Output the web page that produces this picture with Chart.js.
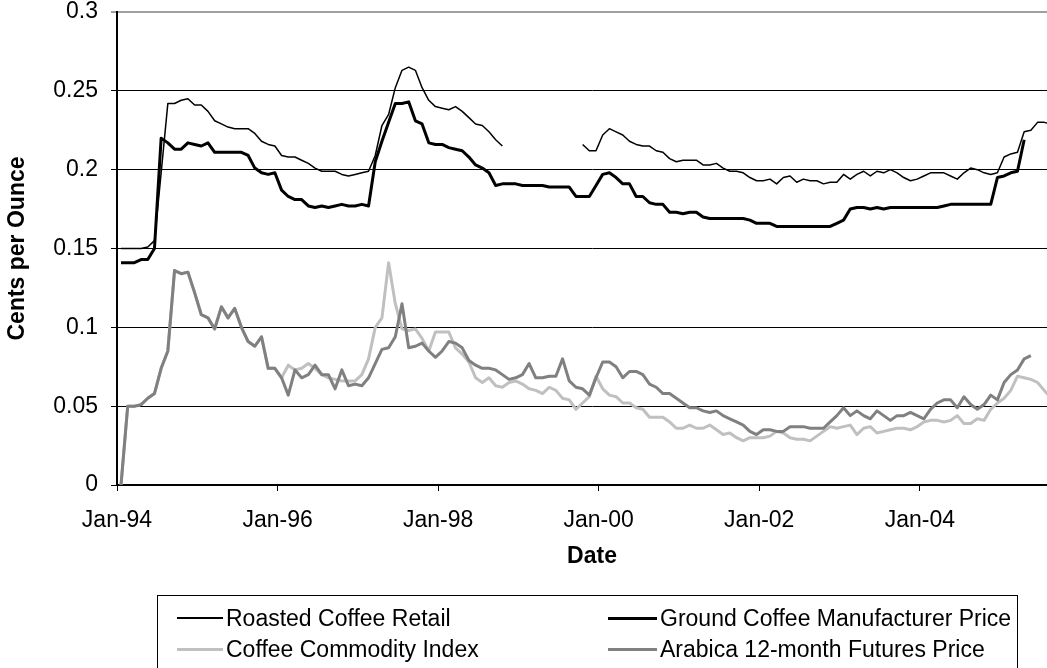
<!DOCTYPE html>
<html>
<head>
<meta charset="utf-8">
<script src="https://cdn.jsdelivr.net/npm/chart.js@4.4.1/dist/chart.umd.min.js"></script>
<style>
  html, body { margin:0; padding:0; background:#fff; overflow:hidden; }
  #wrap { position:relative; width:1067px; height:668px; }
  #legend { position:absolute; left:157px; top:595px; width:861px; height:100px; border:1px solid #000; box-sizing:border-box; }
  .lg-text { position:absolute; font-family:"Liberation Sans", Arial, sans-serif; font-size:23px; line-height:26px; color:#000; white-space:nowrap; }
  .lg-line { position:absolute; }
</style>
</head>
<body>
<div id="wrap">
  <canvas id="c" width="1067" height="668"></canvas>
  <div id="legend"></div>
</div>
<script>
// ---- Data (monthly, starting Jan-94) ----
const seriesNames = ['Roasted Coffee Retail', 'Ground Coffee Manufacturer Price', 'Coffee Commodity Index', 'Arabica 12-month Futures Price'];
const xTickLabels = ['Jan-94', 'Jan-96', 'Jan-98', 'Jan-00', 'Jan-02', 'Jan-04'];
const yTickLabels = ['0', '0.05', '0.1', '0.15', '0.2', '0.25', '0.3'];

const roastedRetail = [
  0.150, 0.150, 0.150, 0.150, 0.151, 0.155, 0.198, 0.242, 0.242, 0.244,
  0.245, 0.241, 0.241, 0.237, 0.231, 0.229, 0.227, 0.226, 0.226, 0.226,
  0.223, 0.218, 0.216, 0.215, 0.209, 0.208, 0.208, 0.206, 0.204, 0.201,
  0.199, 0.199, 0.199, 0.197, 0.196, 0.197, 0.198, 0.199, 0.209, 0.228,
  0.235, 0.252, 0.263, 0.265, 0.263, 0.252, 0.244, 0.240, 0.239, 0.238,
  0.240, 0.237, 0.233, 0.229, 0.228, 0.224, 0.219, 0.215, null, null,
  null, null, null, null, null, null, null, null, null, 0.216,
  0.212, 0.212, 0.222, 0.226, 0.224, 0.222, 0.218, 0.216, 0.215, 0.215,
  0.212, 0.211, 0.207, 0.205, 0.206, 0.206, 0.206, 0.203, 0.203, 0.204,
  0.201, 0.199, 0.199, 0.198, 0.195, 0.193, 0.193, 0.194, 0.191, 0.195,
  0.196, 0.192, 0.194, 0.193, 0.193, 0.191, 0.192, 0.192, 0.197, 0.194,
  0.197, 0.199, 0.196, 0.199, 0.198, 0.200, 0.198, 0.195, 0.193, 0.194,
  0.196, 0.198, 0.198, 0.198, 0.196, 0.194, 0.198, 0.201, 0.200, 0.198,
  0.197, 0.198, 0.208, 0.210, 0.211, 0.224, 0.225, 0.230, 0.230, 0.229
];

const groundManufacturer = [
  0.141, 0.141, 0.141, 0.143, 0.143, 0.150, 0.220, 0.217, 0.213, 0.213,
  0.217, 0.216, 0.215, 0.217, 0.211, 0.211, 0.211, 0.211, 0.211, 0.209,
  0.201, 0.198, 0.197, 0.198, 0.187, 0.183, 0.181, 0.181, 0.177, 0.176,
  0.177, 0.176, 0.177, 0.178, 0.177, 0.177, 0.178, 0.177, 0.205, 0.218,
  0.230, 0.242, 0.242, 0.243, 0.231, 0.229, 0.217, 0.216, 0.216, 0.214,
  0.213, 0.212, 0.208, 0.203, 0.201, 0.198, 0.190, 0.191, 0.191, 0.191,
  0.190, 0.190, 0.190, 0.190, 0.189, 0.189, 0.189, 0.189, 0.183, 0.183,
  0.183, 0.190, 0.197, 0.198, 0.195, 0.191, 0.191, 0.183, 0.183, 0.179,
  0.178, 0.178, 0.173, 0.173, 0.172, 0.173, 0.173, 0.170, 0.169, 0.169,
  0.169, 0.169, 0.169, 0.169, 0.168, 0.166, 0.166, 0.166, 0.164, 0.164,
  0.164, 0.164, 0.164, 0.164, 0.164, 0.164, 0.164, 0.166, 0.168, 0.175,
  0.176, 0.176, 0.175, 0.176, 0.175, 0.176, 0.176, 0.176, 0.176, 0.176,
  0.176, 0.176, 0.176, 0.177, 0.178, 0.178, 0.178, 0.178, 0.178, 0.178,
  0.178, 0.195, 0.196, 0.198, 0.199, 0.219
];

const commodityIndex = [
  0.000, 0.050, 0.050, 0.051, 0.055, 0.058, 0.074, 0.085, 0.136, 0.134,
  0.135, 0.122, 0.108, 0.106, 0.099, 0.113, 0.106, 0.112, 0.100, 0.091,
  0.088, 0.094, 0.074, 0.074, 0.068, 0.076, 0.073, 0.074, 0.077, 0.074,
  0.070, 0.068, 0.067, 0.066, 0.066, 0.066, 0.070, 0.080, 0.100, 0.106,
  0.141, 0.115, 0.099, 0.098, 0.099, 0.093, 0.085, 0.097, 0.097, 0.097,
  0.087, 0.083, 0.078, 0.068, 0.065, 0.068, 0.063, 0.062, 0.065, 0.066,
  0.064, 0.061, 0.060, 0.058, 0.062, 0.060, 0.055, 0.054, 0.048, 0.052,
  0.056, 0.069, 0.061, 0.057, 0.056, 0.052, 0.052, 0.049, 0.048, 0.043,
  0.043, 0.043, 0.040, 0.036, 0.036, 0.038, 0.036, 0.036, 0.038, 0.035,
  0.032, 0.033, 0.030, 0.028, 0.030, 0.030, 0.030, 0.031, 0.034, 0.033,
  0.030, 0.029, 0.029, 0.028, 0.031, 0.034, 0.037, 0.036, 0.037, 0.038,
  0.032, 0.036, 0.037, 0.033, 0.034, 0.035, 0.036, 0.036, 0.035, 0.037,
  0.040, 0.041, 0.041, 0.040, 0.041, 0.044, 0.039, 0.039, 0.042, 0.041,
  0.048, 0.052, 0.055, 0.060, 0.069, 0.068, 0.067, 0.065, 0.060, 0.055
];

const arabicaFutures = [
  0.000, 0.050, 0.050, 0.051, 0.055, 0.058, 0.074, 0.085, 0.136, 0.134,
  0.135, 0.122, 0.108, 0.106, 0.099, 0.113, 0.106, 0.112, 0.100, 0.091,
  0.088, 0.094, 0.074, 0.074, 0.068, 0.057, 0.073, 0.068, 0.070, 0.076,
  0.070, 0.070, 0.061, 0.073, 0.063, 0.064, 0.063, 0.068, 0.077, 0.086,
  0.087, 0.094, 0.115, 0.087, 0.088, 0.090, 0.085, 0.081, 0.085, 0.091,
  0.090, 0.087, 0.079, 0.076, 0.074, 0.074, 0.073, 0.070, 0.067, 0.068,
  0.070, 0.077, 0.068, 0.068, 0.069, 0.069, 0.080, 0.066, 0.062, 0.061,
  0.057, 0.068, 0.078, 0.078, 0.075, 0.068, 0.072, 0.072, 0.070, 0.064,
  0.062, 0.058, 0.058, 0.055, 0.052, 0.049, 0.049, 0.047, 0.046, 0.047,
  0.044, 0.042, 0.040, 0.038, 0.034, 0.032, 0.035, 0.035, 0.034, 0.034,
  0.037, 0.037, 0.037, 0.036, 0.036, 0.036, 0.040, 0.044, 0.049, 0.044,
  0.047, 0.044, 0.042, 0.047, 0.044, 0.041, 0.044, 0.044, 0.046, 0.044,
  0.042, 0.048, 0.052, 0.054, 0.054, 0.049, 0.056, 0.051, 0.048, 0.051,
  0.057, 0.054, 0.065, 0.070, 0.073, 0.080, 0.082
];

// months since Jan-94; monthly readings sit slightly after the first of the month
const monthOffset = 0.6;
const toPoints = arr => arr.map((v, i) => ({ x: i + monthOffset, y: v }));

const styles = [
  { color: '#000000', width: 1.5, order: 3 },
  { color: '#000000', width: 3, order: 2 },
  { color: '#c0c0c0', width: 3, order: 1 },
  { color: '#808080', width: 3, order: 0 }
];
const seriesData = [roastedRetail, groundManufacturer, commodityIndex, arabicaFutures];

const FONT = '"Liberation Sans", Arial, sans-serif';
const FS = 23;

const datasets = seriesData.map((d, k) => ({
  label: seriesNames[k],
  data: toPoints(d),
  borderColor: styles[k].color,
  borderWidth: styles[k].width,
  order: styles[k].order,
  pointRadius: 0,
  tension: 0,
  spanGaps: false,
  fill: false,
  borderJoinStyle: 'round',
  borderCapStyle: 'butt'
}));

new Chart(document.getElementById('c'), {
  type: 'line',
  data: { datasets },
  options: {
    responsive: false,
    animation: false,
    devicePixelRatio: 1,
    layout: { padding: { top: 12, left: 0, right: 0, bottom: 0 } },
    plugins: { legend: { display: false }, tooltip: { enabled: false } },
    scales: {
      x: {
        type: 'linear',
        min: 0,
        max: 142,
        afterFit: s => { s.height = 183; s.paddingLeft = 0; s.paddingRight = 0; },
        ticks: {
          stepSize: 24,
          includeBounds: false,
          autoSkip: false,
          maxRotation: 0,
          padding: 16,
          color: '#000',
          font: { family: FONT, size: FS },
          callback: v => xTickLabels[Math.round(v / 24)]
        },
        grid: { drawOnChartArea: false, drawTicks: true, tickLength: 6, color: '#000', lineWidth: 1 },
        border: { color: '#000', width: 2 },
        title: { display: true, text: 'Date', color: '#000', font: { family: FONT, size: FS, weight: 'bold' }, padding: { top: 0, bottom: 98 } }
      },
      y: {
        min: 0,
        max: 0.3,
        afterFit: s => { s.width = 117; s.paddingTop = 0; s.paddingBottom = 0; },
        ticks: {
          stepSize: 0.05,
          padding: 13,
          color: '#000',
          font: { family: FONT, size: FS },
          callback: (v, i) => yTickLabels[i]
        },
        grid: {
          tickLength: 6,
          color: c => (c.tick && c.tick.value > 0.299) ? '#a0a0a0' : '#000',
          lineWidth: c => (c.tick && c.tick.value > 0.299) ? 2 : 1
        },
        border: { color: '#000', width: 2 },
        title: { display: true, text: 'Cents per Ounce', color: '#000', font: { family: FONT, size: FS, weight: 'bold' }, padding: { top: 4, bottom: 0 } }
      }
    }
  }
});

// ---- HTML legend (Excel-style box, two columns) ----
const wrap = document.getElementById('wrap');
const legendPos = [
  { lx: 177, lw: 46, tx: 226, cy: 618 },
  { lx: 608, lw: 49, tx: 660, cy: 618 },
  { lx: 177, lw: 46, tx: 226, cy: 649 },
  { lx: 608, lw: 49, tx: 660, cy: 649 }
];
seriesNames.forEach((name, k) => {
  const p = legendPos[k];
  const ln = document.createElement('div');
  ln.className = 'lg-line';
  const h = styles[k].width >= 2 ? 3 : 1.5;
  ln.style.left = p.lx + 'px';
  ln.style.width = p.lw + 'px';
  ln.style.top = (p.cy - h / 2) + 'px';
  ln.style.height = h + 'px';
  ln.style.background = styles[k].color;
  wrap.appendChild(ln);
  const tx = document.createElement('div');
  tx.className = 'lg-text';
  tx.textContent = name;
  tx.style.left = p.tx + 'px';
  tx.style.top = (p.cy - 13) + 'px';
  wrap.appendChild(tx);
});
</script>
</body>
</html>
